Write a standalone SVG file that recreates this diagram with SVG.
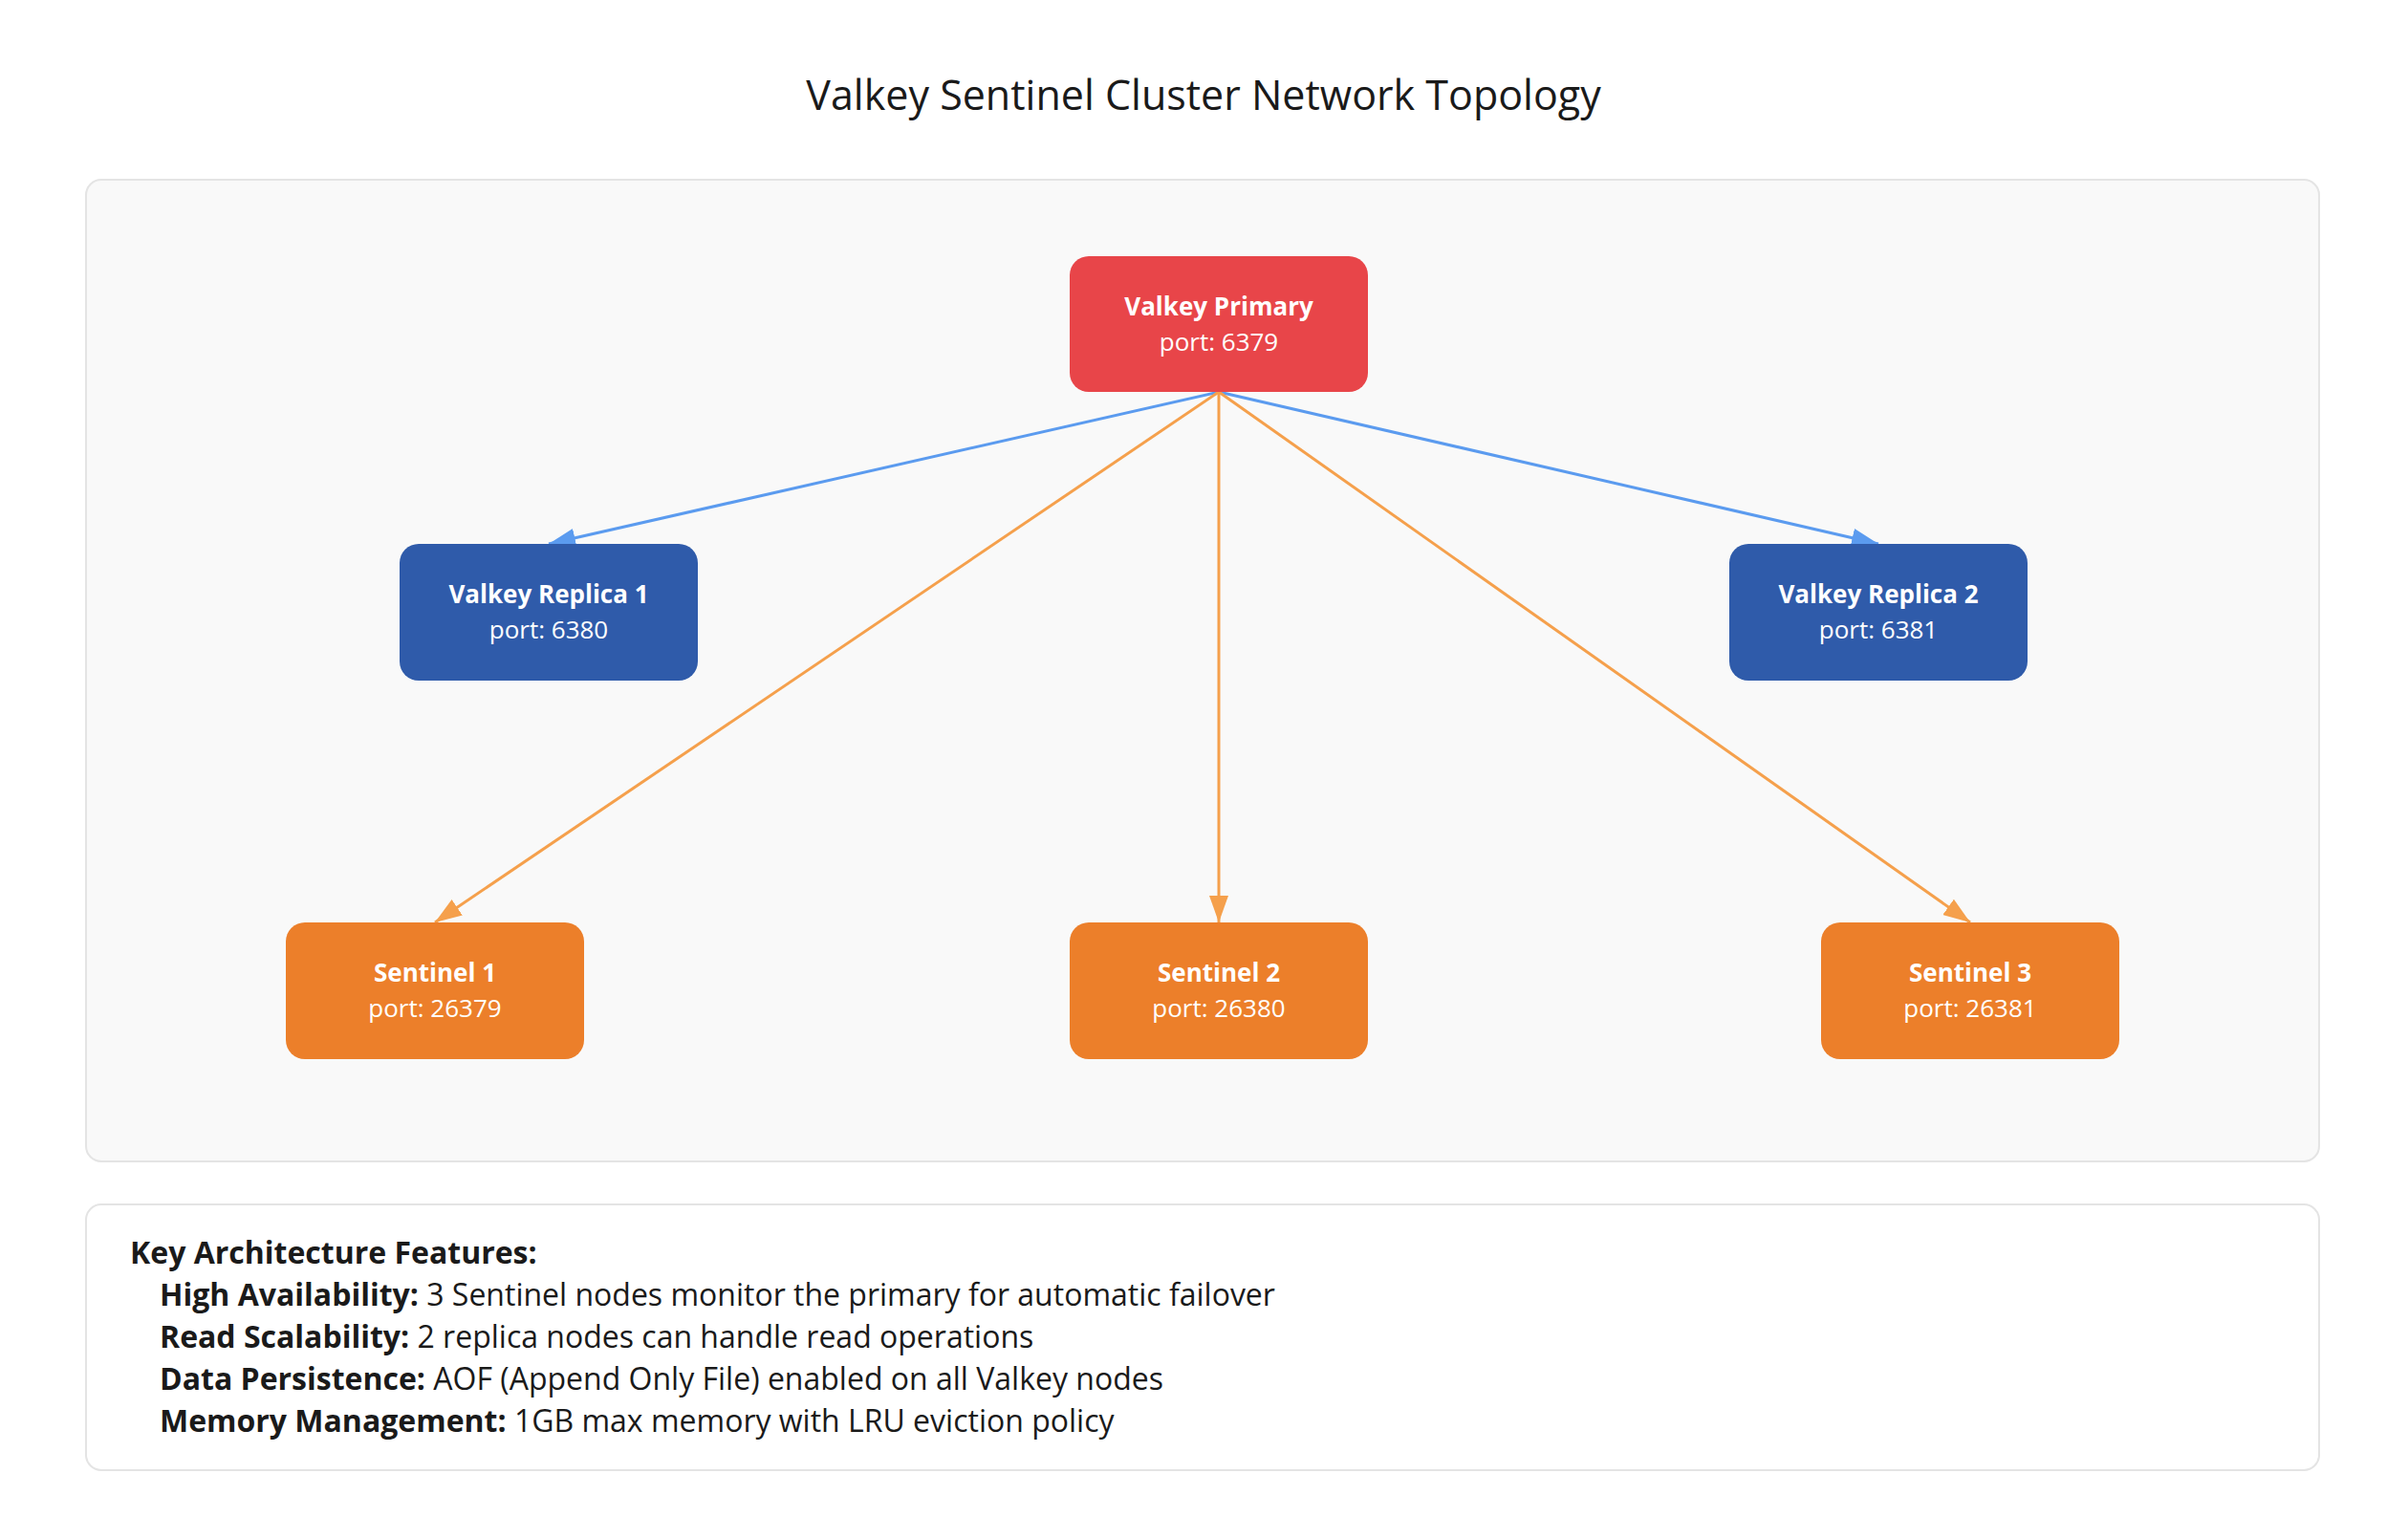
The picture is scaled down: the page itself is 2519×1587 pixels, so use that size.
<svg xmlns="http://www.w3.org/2000/svg" width="2519" height="1587" viewBox="0 0 2519 1587">
<defs>
<style>
text{font-family:"Open Sans","Noto Sans","DejaVu Sans",sans-serif}
.title{font-size:43px;fill:#1a1a1a;text-anchor:middle}
.nb{font-size:26px;font-weight:bold;fill:#fff;text-anchor:middle}
.np{font-size:26px;fill:#fff;text-anchor:middle}
.primary{fill:#e84549}
.replica{fill:#2f5baa}
.sentinel{fill:#ec7f2a}
.eb{stroke:#5b9bef;stroke-width:3;fill:none}
.eo{stroke:#f5a04c;stroke-width:3;fill:none}
.ft{font-size:32px;fill:#1a1a1a}
.ft tspan.b{font-weight:bold}
</style>
<marker id="ab" markerUnits="userSpaceOnUse" markerWidth="28" markerHeight="20" refX="28" refY="10" orient="auto"><path d="M0,0 L28,10 L0,20 z" fill="#5b9bef"/></marker>
<marker id="ao" markerUnits="userSpaceOnUse" markerWidth="28" markerHeight="20" refX="28" refY="10" orient="auto"><path d="M0,0 L28,10 L0,20 z" fill="#f5a04c"/></marker>
</defs>
<rect width="2519" height="1587" fill="#ffffff"/>
<text class="title" x="1259" y="115">Valkey Sentinel Cluster Network Topology</text>
<rect x="90" y="188" width="2336" height="1027" rx="16" fill="#f9f9f9" stroke="#e4e4e4" stroke-width="2"/>
<g id="connectors">
<line class="eb" x1="1275" y1="410" x2="574" y2="569" marker-end="url(#ab)"/>
<line class="eb" x1="1275" y1="410" x2="1965" y2="569" marker-end="url(#ab)"/>
<line class="eo" x1="1275" y1="410" x2="455" y2="965" marker-end="url(#ao)"/>
<line class="eo" x1="1275" y1="410" x2="1275" y2="965" marker-end="url(#ao)"/>
<line class="eo" x1="1275" y1="410" x2="2061" y2="965" marker-end="url(#ao)"/>
</g>
<g id="primary">
<rect class="primary" x="1119" y="268" width="312" height="142" rx="20"/>
<text class="nb" x="1275" y="330">Valkey Primary</text>
<text class="np" x="1275" y="367">port: 6379</text>
</g>
<g id="replica1">
<rect class="replica" x="418" y="569" width="312" height="143" rx="20"/>
<text class="nb" x="574" y="631">Valkey Replica 1</text>
<text class="np" x="574" y="668">port: 6380</text>
</g>
<g id="replica2">
<rect class="replica" x="1809" y="569" width="312" height="143" rx="20"/>
<text class="nb" x="1965" y="631">Valkey Replica 2</text>
<text class="np" x="1965" y="668">port: 6381</text>
</g>
<g id="sentinel1">
<rect class="sentinel" x="299" y="965" width="312" height="143" rx="20"/>
<text class="nb" x="455" y="1027">Sentinel 1</text>
<text class="np" x="455" y="1064">port: 26379</text>
</g>
<g id="sentinel2">
<rect class="sentinel" x="1119" y="965" width="312" height="143" rx="20"/>
<text class="nb" x="1275" y="1027">Sentinel 2</text>
<text class="np" x="1275" y="1064">port: 26380</text>
</g>
<g id="sentinel3">
<rect class="sentinel" x="1905" y="965" width="312" height="143" rx="20"/>
<text class="nb" x="2061" y="1027">Sentinel 3</text>
<text class="np" x="2061" y="1064">port: 26381</text>
</g>
<g id="features">
<rect x="90" y="1260" width="2336" height="278" rx="16" fill="#ffffff" stroke="#e4e4e4" stroke-width="2"/>
<text class="ft" x="136" y="1322"><tspan class="b">Key Architecture Features:</tspan></text>
<text class="ft" x="167" y="1366"><tspan class="b">High Availability:</tspan> 3 Sentinel nodes monitor the primary for automatic failover</text>
<text class="ft" x="167" y="1410"><tspan class="b">Read Scalability:</tspan> 2 replica nodes can handle read operations</text>
<text class="ft" x="167" y="1454"><tspan class="b">Data Persistence:</tspan> AOF (Append Only File) enabled on all Valkey nodes</text>
<text class="ft" x="167" y="1498"><tspan class="b">Memory Management:</tspan> 1GB max memory with LRU eviction policy</text>
</g>
</svg>
